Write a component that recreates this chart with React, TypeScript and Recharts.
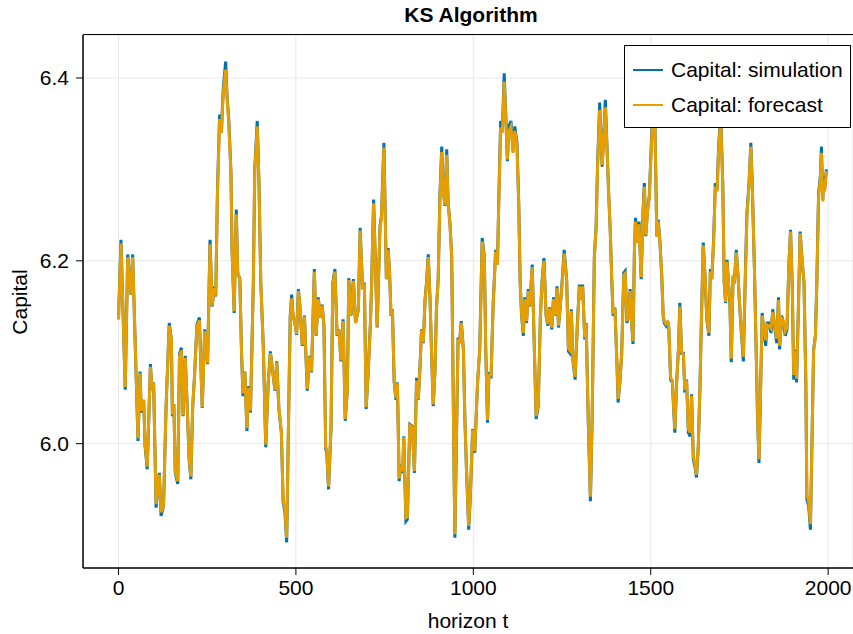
import { LineChart, Line, XAxis, YAxis, CartesianGrid } from 'recharts';

const BLUE = '#0072b2';
const ORANGE = '#e69f00';
const FONT = '"Liberation Sans", Arial, Helvetica, sans-serif';

const xTicks = [0, 500, 1000, 1500, 2000];
const yTicks = [6.0, 6.2, 6.4];
const seriesNames = ['Capital: simulation', 'Capital: forecast'];

// time steps (irregular, at the turning points)
const horizon = [
  0, 7, 19, 26, 35, 40, 43, 55, 61, 64, 71, 75, 81, 90, 94, 99, 106, 115, 120, 127, 134, 143, 149, 152, 156, 160, 167, 172, 177, 182, 188, 193, 199, 204, 209, 214, 221, 228, 236, 243,
  251, 258, 264, 270, 274, 279, 285, 290, 295, 302, 306, 311, 317, 320, 326, 332, 336, 342, 347, 351, 356, 362, 367, 372, 380, 384, 391, 396, 401, 408, 415, 422, 428, 434, 441, 446, 452, 459, 464, 469, 474, 478, 484, 488, 492,
  497, 502, 507, 511, 518, 524, 532, 539, 544, 552, 557, 563, 569, 574, 579, 584, 587, 592, 599, 604, 610, 616, 621, 627, 633, 639, 645, 649, 655, 662, 668, 676, 681, 688, 693, 698, 704, 710, 713, 719, 724, 729, 737, 741, 748,
  755, 760, 764, 768, 772, 777, 782, 786, 791, 796, 801, 804, 810, 814, 821, 828, 834, 840, 845, 850, 854, 859, 864, 868, 873, 878, 882, 887, 892, 896, 901, 906, 911, 915, 920, 925, 929, 934, 939, 942, 945, 948, 952, 957, 961, 966, 972, 976, 981, 987, 992, 998, 1004,
  1012, 1018, 1025, 1031, 1035, 1040, 1044, 1050, 1056, 1063, 1068, 1072, 1077, 1082, 1087, 1091, 1096, 1100, 1106, 1112, 1117, 1123, 1128, 1132, 1136, 1141, 1145, 1150, 1155, 1159, 1166, 1172, 1177, 1183, 1189, 1194, 1199, 1205, 1210, 1215, 1221, 1226, 1232, 1236, 1240, 1245, 1250, 1256,
  1263, 1268, 1272, 1276, 1281, 1287, 1293, 1299, 1303, 1308, 1314, 1318, 1324, 1330, 1335, 1341, 1346, 1350, 1356, 1360, 1363, 1368, 1372, 1377, 1381, 1386, 1390, 1394, 1399, 1405, 1408, 1413, 1418, 1424, 1428, 1433, 1438, 1442, 1446, 1450, 1454, 1457, 1462, 1467, 1473, 1478, 1482, 1486, 1491, 1496, 1501, 1505, 1510, 1514,
  1517, 1521, 1526, 1531, 1535, 1538, 1543, 1548, 1551, 1556, 1561, 1565, 1568, 1573, 1578, 1582, 1587, 1592, 1596, 1601, 1606, 1611, 1615, 1620, 1625, 1629, 1634, 1639, 1643, 1648, 1653, 1658, 1664, 1668, 1672, 1677, 1682, 1687, 1691, 1697, 1703, 1707, 1711, 1715, 1719, 1723, 1727, 1732, 1736, 1741, 1746, 1750, 1756, 1761, 1766, 1771,
  1777, 1782, 1786, 1792, 1797, 1801, 1805, 1809, 1814, 1819, 1824, 1828, 1833, 1839, 1844, 1850, 1855, 1860, 1863, 1869, 1874, 1879, 1884, 1889, 1894, 1899, 1903, 1907, 1911, 1916, 1921, 1927, 1932, 1937, 1940, 1945, 1950, 1954, 1959, 1964, 1968, 1973, 1978, 1981, 1985, 1987, 1990, 1995,
];

const simulation = [
  6.136, 6.223, 6.059, 6.207, 6.163, 6.207, 6.165, 6.003, 6.079, 6.034, 6.048, 5.997, 5.972, 6.087, 6.061, 6.067, 5.930, 5.968, 5.921, 5.932, 6.039, 6.132, 6.114, 6.030, 6.043, 5.968, 5.956, 6.098, 6.105, 6.030, 6.096, 6.048, 5.983, 5.961, 6.039, 6.072, 6.130, 6.138, 6.039, 6.125,
  6.087, 6.223, 6.150, 6.172, 6.161, 6.278, 6.360, 6.340, 6.387, 6.418, 6.380, 6.353, 6.296, 6.212, 6.143, 6.256, 6.187, 6.180, 6.096, 6.052, 6.079, 6.014, 6.063, 6.034, 6.176, 6.300, 6.353, 6.285, 6.176, 6.107, 5.996, 6.067, 6.101, 6.081, 6.058, 6.090, 6.038, 6.012, 5.936, 5.925, 5.892, 5.994, 6.140, 6.163, 6.140,
  6.132, 6.119, 6.169, 6.152, 6.107, 6.140, 6.058, 6.096, 6.078, 6.191, 6.118, 6.160, 6.138, 6.152, 6.129, 5.994, 5.990, 5.950, 6.017, 6.176, 6.191, 6.118, 6.125, 6.090, 6.136, 6.025, 6.059, 6.181, 6.140, 6.180, 6.132, 6.147, 6.236, 6.169, 6.176, 6.038, 6.081, 6.132, 6.169, 6.267, 6.198, 6.127, 6.238, 6.249, 6.329,
  6.180, 6.214, 6.187, 6.140, 6.147, 6.067, 6.048, 6.067, 5.959, 5.977, 5.968, 6.008, 5.915, 5.917, 6.021, 6.019, 5.968, 6.072, 6.048, 6.087, 6.125, 6.110, 6.158, 6.176, 6.207, 6.158, 6.103, 6.041, 6.081, 6.147, 6.180, 6.274, 6.325, 6.278, 6.260, 6.322, 6.263, 6.242, 6.205, 6.103, 5.994, 5.897, 5.994, 6.116, 6.110, 6.134, 6.103, 6.030, 5.968, 5.906, 5.946, 6.016, 5.990,
  6.067, 6.103, 6.225, 6.205, 6.103, 6.023, 6.076, 6.074, 6.154, 6.212, 6.196, 6.271, 6.353, 6.344, 6.405, 6.365, 6.309, 6.347, 6.353, 6.320, 6.347, 6.329, 6.263, 6.176, 6.140, 6.118, 6.160, 6.132, 6.169, 6.150, 6.196, 6.103, 6.027, 6.041, 6.140, 6.180, 6.203, 6.140, 6.129, 6.149, 6.125, 6.160, 6.140, 6.172, 6.127, 6.150, 6.176, 6.212,
  6.180, 6.101, 6.099, 6.147, 6.090, 6.070, 6.129, 6.174, 6.158, 6.174, 6.114, 6.132, 6.023, 5.937, 6.030, 6.205, 6.238, 6.303, 6.373, 6.336, 6.303, 6.340, 6.376, 6.322, 6.278, 6.231, 6.180, 6.140, 6.149, 6.085, 6.045, 6.067, 6.098, 6.187, 6.189, 6.132, 6.140, 6.169, 6.132, 6.109, 6.212, 6.247, 6.220, 6.243, 6.180, 6.252, 6.285, 6.227, 6.256, 6.271, 6.322, 6.358, 6.390, 6.300,
  6.227, 6.245, 6.220, 6.183, 6.140, 6.132, 6.129, 6.134, 6.125, 6.070, 6.067, 6.034, 6.012, 6.067, 6.103, 6.154, 6.099, 6.099, 6.056, 6.070, 6.012, 6.008, 6.054, 5.983, 5.974, 5.963, 5.997, 6.067, 6.140, 6.220, 6.183, 6.136, 6.118, 6.191, 6.180, 6.221, 6.285, 6.278, 6.322, 6.362, 6.285, 6.176, 6.154, 6.201, 6.176, 6.154, 6.089, 6.183, 6.180, 6.212, 6.183, 6.154, 6.118, 6.090, 6.176, 6.252,
  6.285, 6.329, 6.285, 6.194, 6.103, 6.030, 5.979, 6.048, 6.143, 6.121, 6.107, 6.132, 6.132, 6.121, 6.147, 6.125, 6.110, 6.160, 6.103, 6.140, 6.132, 6.118, 6.125, 6.194, 6.234, 6.169, 6.070, 6.103, 6.067, 6.147, 6.232, 6.198, 6.176, 6.067, 5.939, 5.932, 5.906, 5.994, 6.103, 6.118, 6.176, 6.274, 6.293, 6.325, 6.267, 6.293, 6.278, 6.300,
];

const forecast = [
  6.136, 6.219, 6.062, 6.204, 6.163, 6.204, 6.165, 6.006, 6.077, 6.036, 6.048, 5.999, 5.975, 6.084, 6.062, 6.066, 5.934, 5.966, 5.925, 5.933, 6.039, 6.129, 6.114, 6.032, 6.043, 5.970, 5.959, 6.095, 6.102, 6.031, 6.094, 6.048, 5.985, 5.964, 6.039, 6.071, 6.128, 6.135, 6.040, 6.123,
  6.088, 6.218, 6.151, 6.170, 6.162, 6.274, 6.355, 6.340, 6.382, 6.409, 6.378, 6.348, 6.296, 6.213, 6.145, 6.251, 6.188, 6.179, 6.097, 6.055, 6.078, 6.017, 6.061, 6.036, 6.175, 6.298, 6.347, 6.284, 6.177, 6.107, 5.999, 6.066, 6.099, 6.081, 6.059, 6.089, 6.039, 6.014, 5.939, 5.928, 5.897, 5.995, 6.138, 6.159, 6.139,
  6.133, 6.120, 6.167, 6.152, 6.108, 6.139, 6.060, 6.095, 6.079, 6.188, 6.119, 6.158, 6.138, 6.151, 6.130, 5.996, 5.993, 5.953, 6.018, 6.174, 6.188, 6.119, 6.124, 6.091, 6.134, 6.027, 6.059, 6.179, 6.140, 6.178, 6.132, 6.146, 6.233, 6.169, 6.175, 6.040, 6.080, 6.131, 6.168, 6.263, 6.198, 6.128, 6.236, 6.246, 6.324,
  6.180, 6.212, 6.187, 6.141, 6.146, 6.068, 6.050, 6.066, 5.962, 5.976, 5.970, 6.007, 5.919, 5.920, 6.020, 6.018, 5.970, 6.069, 6.049, 6.085, 6.124, 6.111, 6.156, 6.175, 6.204, 6.158, 6.104, 6.043, 6.080, 6.146, 6.180, 6.270, 6.319, 6.277, 6.261, 6.316, 6.263, 6.241, 6.205, 6.104, 5.996, 5.901, 5.995, 6.114, 6.110, 6.132, 6.103, 6.031, 5.970, 5.910, 5.947, 6.015, 5.992,
  6.068, 6.102, 6.221, 6.204, 6.104, 6.026, 6.075, 6.075, 6.152, 6.210, 6.196, 6.268, 6.346, 6.340, 6.396, 6.362, 6.311, 6.342, 6.347, 6.318, 6.342, 6.326, 6.262, 6.176, 6.142, 6.121, 6.158, 6.134, 6.167, 6.151, 6.193, 6.104, 6.030, 6.042, 6.138, 6.178, 6.200, 6.141, 6.131, 6.148, 6.127, 6.158, 6.141, 6.170, 6.129, 6.149, 6.174, 6.208,
  6.179, 6.104, 6.102, 6.145, 6.092, 6.073, 6.127, 6.172, 6.158, 6.172, 6.116, 6.131, 6.025, 5.942, 6.031, 6.202, 6.236, 6.300, 6.365, 6.336, 6.305, 6.335, 6.368, 6.322, 6.278, 6.232, 6.181, 6.142, 6.148, 6.087, 6.049, 6.067, 6.097, 6.184, 6.186, 6.134, 6.140, 6.167, 6.134, 6.112, 6.209, 6.243, 6.220, 6.240, 6.182, 6.249, 6.281, 6.228, 6.254, 6.269, 6.318, 6.352, 6.383, 6.300,
  6.226, 6.243, 6.220, 6.184, 6.142, 6.134, 6.131, 6.133, 6.127, 6.072, 6.069, 6.037, 6.016, 6.066, 6.102, 6.150, 6.100, 6.098, 6.059, 6.069, 6.016, 6.012, 6.052, 5.987, 5.977, 5.966, 5.998, 6.066, 6.138, 6.217, 6.183, 6.138, 6.121, 6.188, 6.180, 6.218, 6.281, 6.276, 6.318, 6.356, 6.283, 6.177, 6.155, 6.199, 6.176, 6.156, 6.093, 6.181, 6.179, 6.209, 6.183, 6.156, 6.121, 6.095, 6.173, 6.248,
  6.283, 6.325, 6.285, 6.195, 6.104, 6.032, 5.983, 6.047, 6.140, 6.124, 6.113, 6.130, 6.129, 6.126, 6.144, 6.128, 6.115, 6.157, 6.107, 6.137, 6.134, 6.123, 6.127, 6.192, 6.232, 6.170, 6.075, 6.101, 6.071, 6.145, 6.230, 6.199, 6.177, 6.070, 5.944, 5.937, 5.912, 5.995, 6.101, 6.117, 6.174, 6.270, 6.290, 6.318, 6.265, 6.288, 6.276, 6.298,
];

const data = horizon.map((t, i) => ({ t, simulation: simulation[i], forecast: forecast[i] }));

const tickStyle = { fontSize: 21, fill: '#000', fontFamily: FONT };

export default function App() {
  return (
    <div style={{ position: 'absolute', left: 0, top: 0, width: 853, height: 634, background: '#fff', fontFamily: FONT, overflow: 'hidden' }}>
      <div style={{ position: 'absolute', left: 83, width: 776, top: 3, textAlign: 'center', fontSize: 21, fontWeight: 'bold' }}>
        KS Algorithm
      </div>
      <LineChart width={853} height={634} data={data} margin={{ top: 35, right: 0, bottom: 0, left: 8 }}>
        <CartesianGrid stroke="#e8e8e8" strokeWidth={1} />
        <XAxis
          dataKey="t"
          type="number"
          domain={[-100, 2070]}
          ticks={xTicks}
          allowDataOverflow
          height={66}
          tick={tickStyle}
          tickSize={7}
          tickMargin={5}
          axisLine={{ stroke: '#000', strokeWidth: 1.5 }}
          tickLine={{ stroke: '#000' }}
        />
        <YAxis
          type="number"
          domain={[5.864, 6.447]}
          ticks={yTicks}
          allowDataOverflow
          width={75}
          tick={tickStyle}
          tickSize={7}
          tickMargin={7}
          tickFormatter={(v: number) => v.toFixed(1)}
          axisLine={{ stroke: '#000', strokeWidth: 1.5 }}
          tickLine={{ stroke: '#000' }}
        />
        <Line type="linear" dataKey="simulation" name={seriesNames[0]} stroke={BLUE} strokeWidth={3} dot={false} isAnimationActive={false} />
        <Line type="linear" dataKey="forecast" name={seriesNames[1]} stroke={ORANGE} strokeWidth={3} dot={false} isAnimationActive={false} />
      </LineChart>
      {/* top spine */}
      <div style={{ position: 'absolute', left: 83, top: 34, width: 770, height: 0, borderTop: '1.5px solid #000', pointerEvents: 'none' }} />
      {/* legend */}
      <div
        style={{
          position: 'absolute',
          left: 624,
          top: 45,
          width: 227,
          height: 83,
          border: '1.5px solid #000',
          background: '#fff',
          boxSizing: 'border-box',
          paddingTop: 7,
          fontSize: 21,
        }}
      >
        {[BLUE, ORANGE].map((c, i) => (
          <div key={seriesNames[i]} style={{ display: 'flex', alignItems: 'center', height: 34.5 }}>
            <div style={{ width: 30, height: 2, background: c, marginLeft: 8, marginRight: 8 }} />
            <span>{seriesNames[i]}</span>
          </div>
        ))}
      </div>
      <div style={{ position: 'absolute', left: 83, width: 770, top: 609, textAlign: 'center', fontSize: 21 }}>horizon t</div>
      <div style={{ position: 'absolute', left: 20, top: 302, transform: 'translate(-50%, -50%) rotate(-90deg)', fontSize: 21, whiteSpace: 'nowrap' }}>
        Capital
      </div>
    </div>
  );
}
